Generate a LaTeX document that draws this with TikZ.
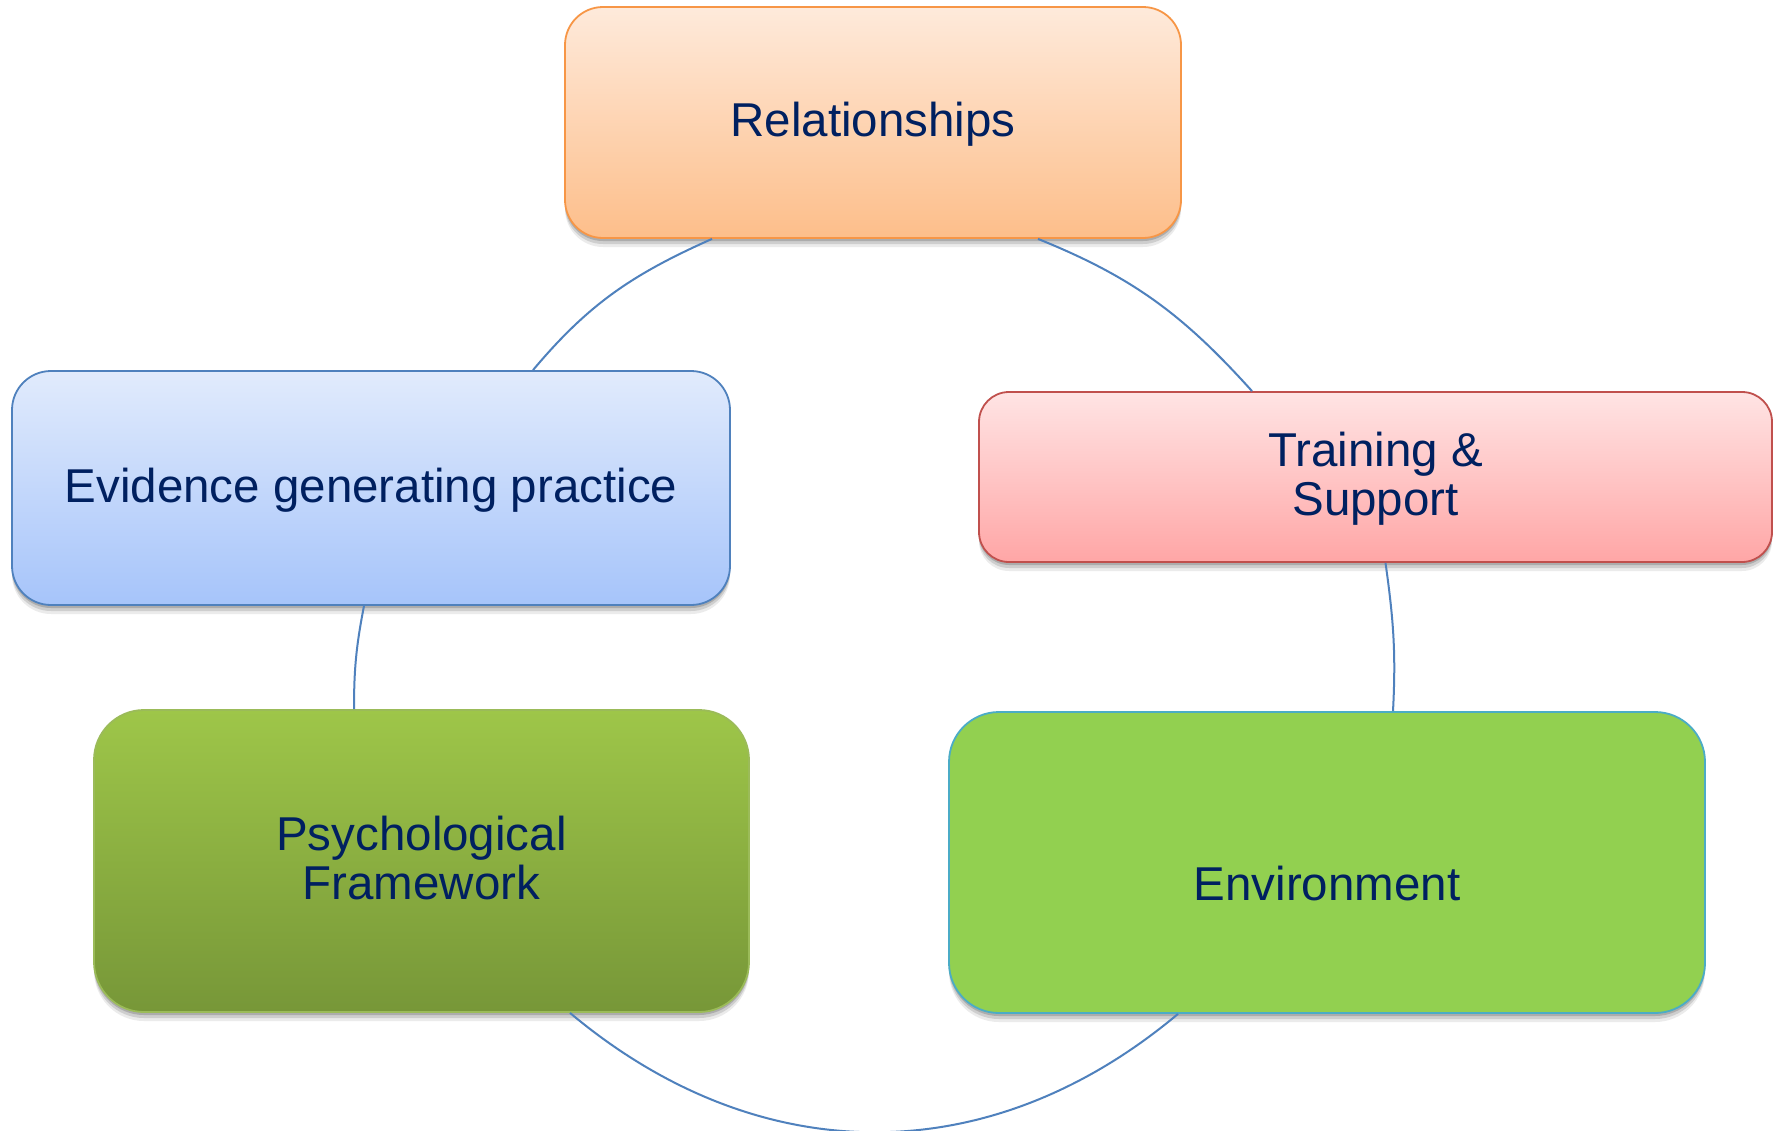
\documentclass[tikz,border=0pt]{standalone}
\usepackage{fontspec}
\setmainfont{Liberation Sans}
\usetikzlibrary{shadows}

\definecolor{txtnavy}{RGB}{0,32,96}
\definecolor{arcblue}{RGB}{79,129,189}
\definecolor{relTop}{RGB}{254,234,219}
\definecolor{relBot}{RGB}{253,190,138}
\definecolor{relLine}{RGB}{247,150,70}
\definecolor{eviTop}{RGB}{225,235,252}
\definecolor{eviBot}{RGB}{166,196,250}
\definecolor{eviLine}{RGB}{79,129,189}
\definecolor{trnTop}{RGB}{255,228,228}
\definecolor{trnBot}{RGB}{255,166,166}
\definecolor{trnLine}{RGB}{192,80,77}
\definecolor{psyTop}{RGB}{158,198,73}
\definecolor{psyBot}{RGB}{119,151,56}
\definecolor{psyLine}{RGB}{155,187,89}
\definecolor{envFill}{RGB}{146,208,80}
\definecolor{envLine}{RGB}{75,172,198}

\begin{document}
\begin{tikzpicture}[x=1pt,y=-1pt,
  card/.style={rectangle, inner sep=0pt, line width=1.8pt,
    font=\fontsize{47.5}{49}\selectfont, text=txtnavy, align=center, text depth=6pt,
    drop shadow={shadow xshift=0pt, shadow yshift=-9pt, opacity=0.08, fill=black},
    drop shadow={shadow xshift=0pt, shadow yshift=-6pt, opacity=0.12, fill=black},
    drop shadow={shadow xshift=0pt, shadow yshift=-3pt, opacity=0.16, fill=black}},
  cardtext/.style={inner sep=0pt, font=\fontsize{47.5}{49}\selectfont, text=txtnavy,
    align=center, text depth=0pt},
  ringarc/.style={draw=arcblue, line width=2pt},
]
\fill[white] (0,0) rectangle (1780,1130);
\useasboundingbox (0,0) rectangle (1780,1130);

% the five boxes of the cycle
\node[card, draw=relLine, top color=relTop, bottom color=relBot, rounded corners=38pt,
      minimum width=616pt, minimum height=231pt] (rel) at (873,122.5) {Relationships};
\node[card, draw=eviLine, top color=eviTop, bottom color=eviBot, rounded corners=39pt,
      minimum width=718pt, minimum height=234pt] (evi) at (371,488) {Evidence generating practice};
\node[card, draw=trnLine, top color=trnTop, bottom color=trnBot, rounded corners=30pt,
      minimum width=793pt, minimum height=170pt] (trn) at (1375.5,477) {Training \&\\Support};
\node[card, draw=psyLine, top color=psyTop, bottom color=psyBot, rounded corners=50pt,
      minimum width=655pt, minimum height=302pt] (psy) at (421.5,861) {Psychological\\Framework};
\node[card, draw=envLine, fill=envFill, rounded corners=50pt,
      minimum width=756pt, minimum height=301pt] (env) at (1327,862.5) {};
\node[cardtext] (envtext) at (1327,883) {Environment};

% arcs joining the boxes round the ring
\draw[ringarc] ([xshift=-161pt]rel.south) to[out=204,in=50] ([xshift=162pt]evi.north);
\draw[ringarc] ([xshift=165pt]rel.south) to[out=338,in=132] ([xshift=-123.5pt]trn.north);
\draw[ringarc] ([xshift=10pt]trn.south) to[out=278,in=87] ([xshift=66pt]env.north);
\draw[ringarc] ([xshift=-7pt]evi.south) to[out=259,in=90] ([xshift=-67.5pt]psy.north);
\draw[ringarc] ([xshift=148.5pt]psy.south) to[out=320,in=220,looseness=1.04] ([xshift=-149pt]env.south);
\end{tikzpicture}
\end{document}
